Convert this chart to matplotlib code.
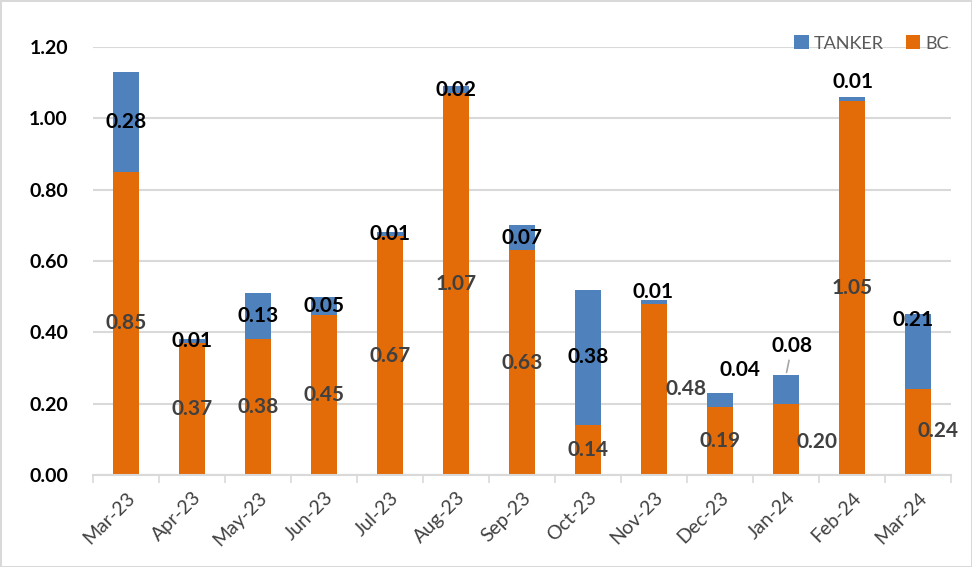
import matplotlib
matplotlib.use('Agg')
import matplotlib.pyplot as plt
import numpy as np

# =============================================================================
# Data
# =============================================================================
months = ['Mar-23', 'Apr-23', 'May-23', 'Jun-23', 'Jul-23', 'Aug-23', 'Sep-23',
          'Oct-23', 'Nov-23', 'Dec-23', 'Jan-24', 'Feb-24', 'Mar-24']
bc = [0.85, 0.37, 0.38, 0.45, 0.67, 1.07, 0.63, 0.14, 0.48, 0.19, 0.20, 1.05, 0.24]
tanker = [0.28, 0.01, 0.13, 0.05, 0.01, 0.02, 0.07, 0.38, 0.01, 0.04, 0.08, 0.01, 0.21]

# label nudges in pixels (dx, dy) where the labels were moved by hand
bc_nudge = {8: (32, 0), 10: (31, -3), 12: (20, 1)}
tanker_nudge = {8: (-1, 10), 9: (20, 30), 11: (1, 17), 12: (-5, 32)}
leader = {10: (6, 29)}  # offset from bar top

# =============================================================================
# Plot
# =============================================================================
plt.rcParams['font.family'] = ['Lato', 'DejaVu Sans']

blue = '#4F81BD'
orange = '#E36C09'
grid_c = '#D9D9D9'

fig = plt.figure(figsize=(9.72, 5.67), dpi=100)
fig.patch.set_edgecolor(grid_c)
fig.patch.set_linewidth(2)
ax = fig.add_axes([93 / 972, 1 - 475 / 567, (951 - 93) / 972, (475 - 47) / 567])

x = np.arange(len(months))
ax.bar(x, bc, width=0.4, color=orange, label='BC', zorder=2)
ax.bar(x, tanker, width=0.4, bottom=bc, color=blue, label='TANKER', zorder=2)

for i in range(len(months)):
    dx, dy = bc_nudge.get(i, (0, 0))
    ax.annotate(f'{bc[i]:.2f}', (x[i], bc[i] / 2), xytext=(dx, dy),
                textcoords='offset pixels', ha='center', va='center',
                fontsize=15, fontweight='bold', color='#404040', zorder=3)
    if i in leader:
        dx, dy = leader[i]
        ax.annotate(f'{tanker[i]:.2f}', (x[i], bc[i] + tanker[i]), xytext=(dx, dy),
                    textcoords='offset pixels', ha='center', va='center',
                    fontsize=15, fontweight='bold', color='black', zorder=3,
                    arrowprops=dict(arrowstyle='-', color='#A6A6A6', lw=1.2,
                                    shrinkA=1, shrinkB=2))
    else:
        dx, dy = tanker_nudge.get(i, (0, 0))
        ax.annotate(f'{tanker[i]:.2f}', (x[i], bc[i] + tanker[i] / 2), xytext=(dx, dy),
                    textcoords='offset pixels', ha='center', va='center',
                    fontsize=15, fontweight='bold', color='black', zorder=3)

ax.set_xlim(-0.5, len(months) - 0.5)
ax.set_ylim(0, 1.2)
ax.set_yticks(np.arange(0, 1.21, 0.2))
ax.set_yticklabels([f'{v:.2f}' for v in np.arange(0, 1.21, 0.2)],
                   fontsize=14, fontweight='bold')
ax.set_xticks(x)
ax.set_xticklabels(months, rotation=45, ha='right', rotation_mode='anchor',
                   fontsize=14, color='#404040')
ax.set_xticks(np.arange(-0.5, len(months)), minor=True)
ax.tick_params(axis='x', which='major', length=0, pad=10)
ax.tick_params(axis='x', which='minor', length=6, color=grid_c, width=1.2)
ax.tick_params(axis='y', length=0, pad=18)

ax.grid(axis='y', color=grid_c, lw=1.5, zorder=0)
ax.set_axisbelow(True)
for s in ['top', 'right', 'left']:
    ax.spines[s].set_visible(False)
ax.spines['bottom'].set_color(grid_c)
ax.spines['bottom'].set_linewidth(1.5)

handles, labels = ax.get_legend_handles_labels()
ax.legend(handles[::-1], labels[::-1], loc='lower right', bbox_to_anchor=(1.0, 0.985),
          ncol=2, frameon=False, fontsize=13, labelcolor='#595959',
          handlelength=0.8, handleheight=0.8, handletextpad=0.3, columnspacing=1.2,
          borderaxespad=0, borderpad=0.1)

fig.savefig('out.png', dpi=100)
